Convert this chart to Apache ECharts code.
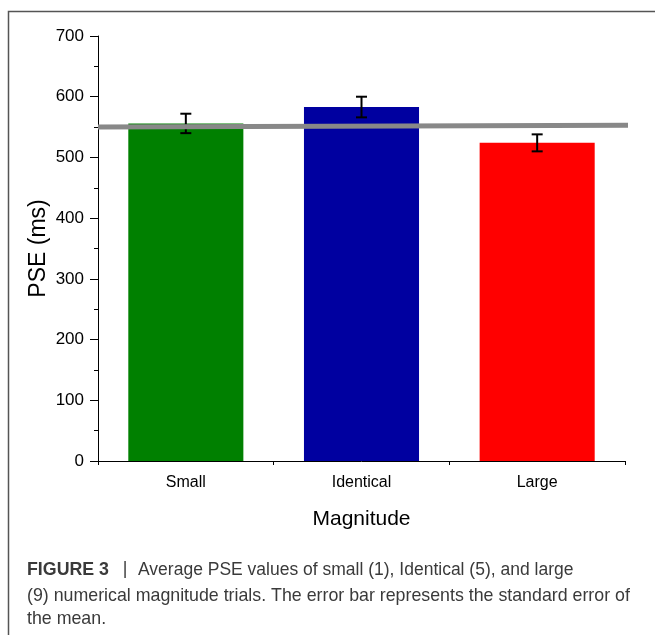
<!DOCTYPE html>
<html>
<head>
<meta charset="utf-8">
<script src="https://cdn.jsdelivr.net/npm/echarts@6/dist/echarts.min.js"></script>
<style>
html,body{margin:0;padding:0;background:#fff;}
#chart{width:655px;height:635px;}
</style>
</head>
<body>
<div id="chart"></div>
<script>
// ---- data ----
var categories = ['Small', 'Identical', 'Large'];
var pseMeans = [556, 583, 524];
var pseSE = [16, 17, 14];
var barColors = ['#008000', '#0000A0', '#FF0000'];
var yTicks = [0, 100, 200, 300, 400, 500, 600, 700];
var refLineX = [0, 3.09];
var refLineY = [550, 553];
var captionLabel = 'FIGURE 3';
var captionLines = [
  'Average PSE values of small (1), Identical (5), and large',
  '(9) numerical magnitude trials. The error bar represents the standard error of',
  'the mean.'
];

var chart = echarts.init(document.getElementById('chart'), null, {renderer: 'canvas'});
var FONT = 'Liberation Sans, Arial, sans-serif';
var CAPFONT = '17.8px Liberation Sans, Arial, sans-serif';
var CAPFONT1 = '17.5px Liberation Sans, Arial, sans-serif';
var CAPCOLOR = '#3a3a3a';

var errData = categories.map(function (c, i) {
  return [i, pseMeans[i] - pseSE[i], pseMeans[i] + pseSE[i]];
});

var option = {
  backgroundColor: '#fff',
  animation: false,
  grid: {left: 98, right: 30, top: 36, bottom: 174, containLabel: false},
  xAxis: [{
    type: 'category',
    data: categories,
    boundaryGap: true,
    name: 'Magnitude',
    nameLocation: 'middle',
    nameGap: 48,
    nameTextStyle: {fontFamily: FONT, fontSize: 21, color: '#000'},
    axisLine: {lineStyle: {color: '#000', width: 1}},
    axisTick: {alignWithLabel: true, length: 8, lineStyle: {color: '#000'}},
    axisLabel: {fontFamily: FONT, fontSize: 16, color: '#000', margin: 14}
  }, {
    type: 'value',
    min: 0, max: 3, interval: 1,
    position: 'bottom',
    axisLine: {show: false},
    axisTick: {show: true, length: 4, lineStyle: {color: '#000'}},
    axisLabel: {show: false},
    splitLine: {show: false}
  }],
  yAxis: [{
    type: 'value',
    min: 0, max: 700, interval: 100,
    name: 'PSE (ms)',
    nameLocation: 'middle',
    nameGap: 48,
    nameMoveOverlap: false,
    nameTextStyle: {fontFamily: FONT, fontSize: 23, color: '#000'},
    axisLine: {show: true, lineStyle: {color: '#000', width: 1}},
    axisTick: {show: true, length: 8, lineStyle: {color: '#000'}},
    minorTick: {show: true, splitNumber: 2, length: 4, lineStyle: {color: '#000'}},
    axisLabel: {fontFamily: FONT, fontSize: 17, color: '#000', margin: 14},
    splitLine: {show: false}
  }],
  series: [{
    type: 'bar',
    data: pseMeans.map(function (v, i) { return {value: v, itemStyle: {color: barColors[i]}}; }),
    barWidth: '65.5%',
    z: 2
  }, {
    type: 'custom',
    data: errData,
    z: 3,
    renderItem: function (params, api) {
      var x = api.value(0);
      var lo = api.coord([x, api.value(1)]);
      var hi = api.coord([x, api.value(2)]);
      var w = 5.5;
      var st = {stroke: '#000', lineWidth: 2};
      return {
        type: 'group',
        children: [
          {type: 'line', shape: {x1: hi[0], y1: hi[1], x2: lo[0], y2: lo[1]}, style: st},
          {type: 'line', shape: {x1: hi[0] - w, y1: hi[1], x2: hi[0] + w, y2: hi[1]}, style: st},
          {type: 'line', shape: {x1: lo[0] - w, y1: lo[1], x2: lo[0] + w, y2: lo[1]}, style: st}
        ]
      };
    }
  }, {
    type: 'line',
    xAxisIndex: 1,
    data: refLineX.map(function (x, i) { return [x, refLineY[i]]; }),
    showSymbol: false,
    clip: false,
    lineStyle: {color: '#888888', width: 5},
    z: 4
  }],
  graphic: [{
    type: 'rect',
    shape: {x: 8.5, y: 11.5, width: 700, height: 700},
    style: {fill: 'none', stroke: '#555', lineWidth: 1.5},
    silent: true
  }, {
    type: 'text', x: 27, y: 570,
    style: {text: captionLabel, font: 'bold ' + CAPFONT, fill: CAPCOLOR, verticalAlign: 'middle'}
  }, {
    type: 'text', x: 125, y: 569,
    style: {text: '|', font: CAPFONT, fill: CAPCOLOR, align: 'center', verticalAlign: 'middle'}
  }, {
    type: 'text', x: 138, y: 570,
    style: {text: captionLines[0], font: CAPFONT1, fill: CAPCOLOR, verticalAlign: 'middle'}
  }, {
    type: 'text', x: 27, y: 596,
    style: {text: captionLines[1], font: CAPFONT, fill: CAPCOLOR, verticalAlign: 'middle'}
  }, {
    type: 'text', x: 27, y: 619,
    style: {text: captionLines[2], font: CAPFONT, fill: CAPCOLOR, verticalAlign: 'middle'}
  }]
};
chart.setOption(option);
</script>
</body>
</html>
